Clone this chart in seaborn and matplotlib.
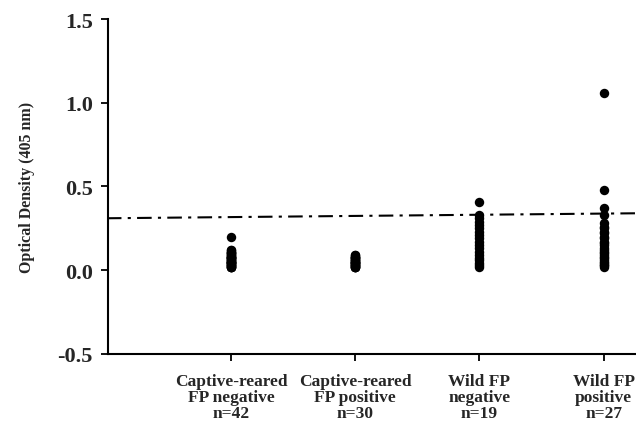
import pandas as pd
import matplotlib.pyplot as plt
import seaborn as sns

# Group labels and sample sizes
groups = ['Captive-reared\nFP negative', 'Captive-reared\nFP positive',
          'Wild FP\nnegative', 'Wild FP\npositive']
n_counts = [42, 30, 19, 27]

# Optical density readings per group
captive_neg = [0.20, 0.12, 0.12, 0.11, 0.11, 0.10, 0.10, 0.10, 0.09, 0.09, 0.09,
               0.08, 0.08, 0.08, 0.08, 0.07, 0.07, 0.07, 0.07, 0.06, 0.06, 0.06,
               0.06, 0.05, 0.05, 0.05, 0.05, 0.05, 0.04, 0.04, 0.04, 0.04, 0.03,
               0.03, 0.03, 0.03, 0.03, 0.02, 0.02, 0.02, 0.02, 0.02]
captive_pos = [0.09, 0.09, 0.08, 0.08, 0.08, 0.07, 0.07, 0.07, 0.06, 0.06, 0.06,
               0.06, 0.05, 0.05, 0.05, 0.05, 0.04, 0.04, 0.04, 0.04, 0.03, 0.03,
               0.03, 0.03, 0.03, 0.02, 0.02, 0.02, 0.02, 0.02]
wild_neg = [0.41, 0.33, 0.31, 0.29, 0.27, 0.25, 0.23, 0.21, 0.19, 0.17, 0.15,
            0.13, 0.11, 0.09, 0.07, 0.06, 0.04, 0.03, 0.02]
wild_pos = [1.06, 0.48, 0.37, 0.33, 0.28, 0.26, 0.25, 0.23, 0.22, 0.20, 0.19,
            0.17, 0.16, 0.15, 0.13, 0.12, 0.11, 0.10, 0.09, 0.08, 0.07, 0.06,
            0.05, 0.04, 0.03, 0.03, 0.02]

# Cut-off line (slightly tilted in the original scan)
cutoff_x = [-1.0, 3.3]
cutoff_y = [0.31, 0.34]

yticks = [-0.5, 0.0, 0.5, 1.0, 1.5]

series = [captive_neg, captive_pos, wild_neg, wild_pos]
labels = [f'{g}\nn={n}' for g, n in zip(groups, n_counts)]
df = pd.DataFrame({
    'group': [lab for lab, vals in zip(labels, series) for _ in vals],
    'od': [v for vals in series for v in vals],
})

sns.set_theme(style='white')
plt.rcParams['font.family'] = ['Liberation Serif', 'DejaVu Serif']
plt.rcParams['font.weight'] = 'bold'

fig = plt.figure(figsize=(6.36, 4.27), dpi=100)
ax = fig.add_axes([0.170, 0.169, 0.830, 0.784])

sns.stripplot(data=df, x='group', y='od', order=labels, jitter=False,
              color='black', size=6.8, linewidth=0, ax=ax)

ax.plot(cutoff_x, cutoff_y, color='black', lw=1.5,
        linestyle=(0, (7, 3, 1.5, 3)))

ax.set_xlim(-0.99, 3.26)
ax.set_ylim(-0.5, 1.5)
ax.set_yticks(yticks)
ax.set_yticklabels([f'{t:.1f}' for t in yticks], fontsize=16, fontweight='bold')
ax.set_xticks(range(len(labels)))
ax.set_xticklabels(labels, fontsize=12.5, fontweight='bold', linespacing=1.0)
ax.set_xlabel('')
ax.set_ylabel('Optical Density (405 nm)', fontsize=11.5, fontweight='bold',
              labelpad=16)

for side in ['top', 'right']:
    ax.spines[side].set_visible(False)
for side in ['left', 'bottom']:
    ax.spines[side].set_color('black')
    ax.spines[side].set_linewidth(1.5)
ax.tick_params(axis='both', direction='out', length=5, width=1.3,
               color='black', left=True, bottom=True)
ax.tick_params(axis='y', pad=6)
ax.tick_params(axis='x', pad=9)

fig.savefig('out.png', dpi=100)
